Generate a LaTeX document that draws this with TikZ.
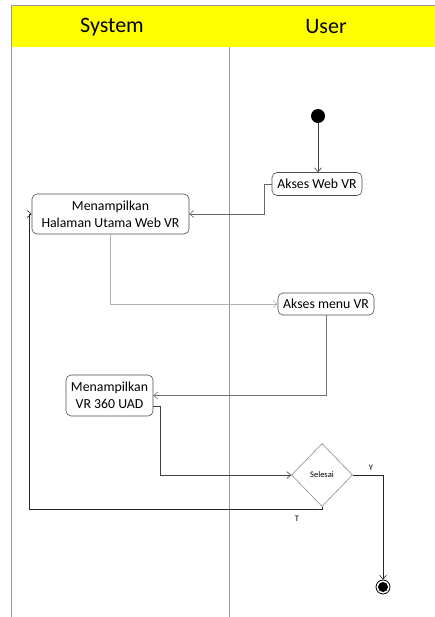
\documentclass[tikz,border=0pt]{standalone}
\usepackage{fontspec}
\setmainfont{Carlito}
\usetikzlibrary{shapes.geometric,arrows.meta}
\definecolor{hdryellow}{HTML}{FFFF00}
\tikzset{
  act/.style={draw=black!70,rounded corners=5pt,align=center,inner sep=2pt,
    font=\fontsize{13.8}{17}\selectfont,line width=0.6pt},
  flow/.style={draw=black!75,line width=0.6pt,-{Straight Barb[length=4pt,width=7pt]}},
  lane/.style={draw=black!40,line width=0.6pt},
  hdrtext/.style={font=\fontsize{22}{26}\selectfont},
  small/.style={font=\fontsize{8.5}{10}\selectfont}
}
\begin{document}
\begin{tikzpicture}[x=1pt,y=-1pt]
\useasboundingbox (0,0) rectangle (435,617);
% header
\fill[hdryellow] (11,5) rectangle (435,47);
\draw[lane] (11,5) -- (435,5);
\draw[lane] (11,5) -- (11,617);
\draw[lane] (229,47) -- (229,617);
\node[hdrtext] (hsys) at (112,27) {System};
\node[hdrtext] (husr) at (326,27) {User};
% nodes
\node[circle,fill=black,inner sep=0,minimum size=14pt] (start) at (318,116) {};
\node[act,minimum width=90pt,minimum height=23pt] (a1) at (317,184) {Akses Web VR};
\node[act,minimum width=157pt,minimum height=40pt] (a2) at (110.5,214) {Menampilkan\\Halaman Utama Web VR};
\node[act,minimum width=96pt,minimum height=22pt] (a3) at (326,304) {Akses menu VR};
\node[act,minimum width=87pt,minimum height=41pt] (a4) at (109.5,395.5) {Menampilkan\\VR 360 UAD};
\node[diamond,draw=black!45,line width=0.6pt,shape aspect=1,minimum width=61pt,minimum height=63pt,inner sep=0,small] (dec) at (322,475) {Selesai};
\node[circle,draw=black,line width=0.8pt,inner sep=0,minimum size=14pt] (end) at (383,587) {};
\node[circle,fill=black,inner sep=0,minimum size=10pt] (endin) at (end.center) {};
% connectors
\draw[flow] (start) -- (start |- a1.north);
\draw[flow,draw=black!60] (a1.west) -- ++(-7,0) |- (a2.east);
\draw[flow,draw=black!30] (a2.south) |- (a3.west);
\draw[flow,draw=black!55] (a3.south) |- (a4.east);
\draw[flow] ([yshift=-11pt]a4.east) -- ++(7,0) |- (dec.west);
\draw[flow,draw=black!85] (dec.south) -- ++(0,2) -| ([xshift=-2pt]a2.west) -- (a2.west);
\draw[flow,draw=black!85] (dec.east) -| (end.north);
\node[small] (lt) at (297,519) {T};
\node[small] (ly) at (371,468) {Y};
\end{tikzpicture}
\end{document}
